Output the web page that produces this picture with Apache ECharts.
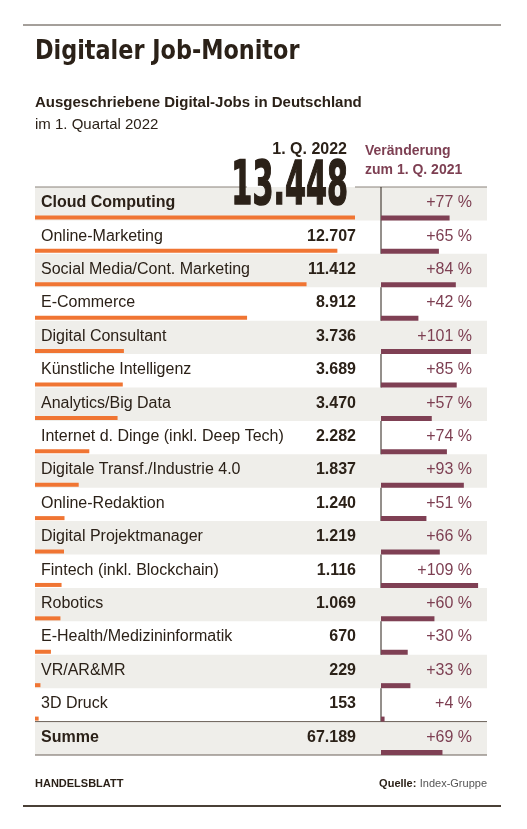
<!DOCTYPE html>
<html><head><meta charset="utf-8">
<script src="https://cdn.jsdelivr.net/npm/echarts@6/dist/echarts.min.js"></script>
<style>body{margin:0;background:#fff}#c{width:527px;height:829px}</style>
</head><body><div id="c"></div>
<script>
const categories = ['Cloud Computing','Online-Marketing','Social Media/Cont. Marketing','E-Commerce','Digital Consultant','Künstliche Intelligenz','Analytics/Big Data','Internet d. Dinge (inkl. Deep Tech)','Digitale Transf./Industrie 4.0','Online-Redaktion','Digital Projektmanager','Fintech (inkl. Blockchain)','Robotics','E-Health/Medizininformatik','VR/AR&MR','3D Druck','Summe'];
const jobs = [13448,12707,11412,8912,3736,3689,3470,2282,1837,1240,1219,1116,1069,670,229,153,67189];
const change = [77,65,84,42,101,85,57,74,93,51,66,109,60,30,33,4,69];

const DARK = '#2b2118', MAROON = '#7d3f52', ORANGE = '#f07533', GRAY = '#efeeea';
const fmt = v => v >= 1000 ? Math.floor(v/1000) + '.' + String(v%1000).padStart(3,'0') : String(v);
const last = categories.length - 1;
const rows = categories.map((c,i) => [i, c]);

const chart = echarts.init(document.getElementById('c'));
const yAx = gi => ({type:'category', gridIndex:gi, data:categories, inverse:true, show:false, boundaryGap:true});
chart.setOption({
  animation:false,
  grid:[{left:35, top:187, width:320, height:568}, {left:381, top:187, width:106, height:568}],
  xAxis:[{type:'value', gridIndex:0, min:0, max:13448, show:false},
         {type:'value', gridIndex:1, min:0, max:119, show:false}],
  yAxis:[yAx(0), yAx(1)],
  graphic:[
    {type:'line', shape:{x1:23,y1:25,x2:501,y2:25}, style:{stroke:'#4a4036',lineWidth:1}},
    {type:'text', left:35, top:38, style:{text:'Digitaler Job-Monitor', font:'bold 27px "DejaVu Sans Condensed"', fill:DARK}, scaleX:0.92},
    {type:'text', left:35, top:95, style:{text:'Ausgeschriebene Digital-Jobs in Deutschland', font:'bold 15px "Liberation Sans"', fill:DARK}},
    {type:'text', left:35, top:117, style:{text:'im 1. Quartal 2022', font:'15px "Liberation Sans"', fill:DARK}},
    {type:'text', x:347, y:142, style:{text:'1. Q. 2022', font:'bold 16px "Liberation Sans"', fill:DARK, align:'right'}},
    {type:'text', x:365, y:142, style:{text:'Veränderung\nzum 1. Q. 2021', font:'bold 14px "Liberation Sans"', fill:MAROON, lineHeight:19}},
    {type:'line', shape:{x1:23,y1:806,x2:501,y2:806}, style:{stroke:'#4a4036',lineWidth:2}},
    {type:'text', left:35, top:778, style:{text:'HANDELSBLATT', font:'bold 11px "Liberation Sans"', fill:DARK}},
    {type:'text', right:40, top:778, style:{rich:{b:{font:'bold 11px "Liberation Sans"',fill:DARK},n:{font:'11px "Liberation Sans"',fill:'#555'}}, text:'{b|Quelle:} {n|Index-Gruppe}'}}
  ],
  series:[
    {type:'custom', xAxisIndex:0, yAxisIndex:0, data:rows, z:1,
     renderItem:(p, api) => {
       const i = api.value(0);
       const c = api.coord([0, i]); const h = api.size([0,1])[1];
       const top = c[1] - h/2, ch = [];
       if (i % 2 === 0) ch.push({type:'rect', shape:{x:35, y:top, width:452, height:h}, style:{fill:GRAY}});
       const bold = i === 0 || i === last;
       ch.push({type:'text', style:{text:categories[i], x:41, y:c[1]-1, verticalAlign:'middle', font:(bold?'bold ':'')+'16px "Liberation Sans"', fill:DARK}});
       if (i > 0) ch.push({type:'text', style:{text:fmt(jobs[i]), x:356, y:c[1]-1, align:'right', verticalAlign:'middle', font:'bold 16px "Liberation Sans"', fill:DARK}});
       ch.push({type:'text', style:{text:'+' + change[i] + ' %', x:472, y:c[1]-1, align:'right', verticalAlign:'middle', font:'16px "Liberation Sans"', fill:MAROON}});
       if (i === last) {
         ch.push({type:'line', shape:{x1:35,y1:top,x2:487,y2:top}, style:{stroke:'#6b6158',lineWidth:1}});
         ch.push({type:'line', shape:{x1:35,y1:top+h,x2:487,y2:top+h}, style:{stroke:'#6b6158',lineWidth:1}});
       }
       if (i === 0) {
         ch.push({type:'line', shape:{x1:35,y1:top,x2:247,y2:top}, style:{stroke:'#8a827a',lineWidth:1}});
         ch.push({type:'line', shape:{x1:355,y1:top,x2:487,y2:top}, style:{stroke:'#8a827a',lineWidth:1}});
         ch.push({type:'line', shape:{x1:381,y1:top,x2:381,y2:top+h*categories.length}, style:{stroke:DARK,lineWidth:1}});
       }
       return {type:'group', children:ch};
     }},
    {type:'custom', xAxisIndex:0, yAxisIndex:0, z:3,
     data:jobs.slice(0,last).map((v,i)=>[v,i]),
     renderItem:(p, api) => {
       const s = api.coord([0, api.value(1)]), e = api.coord([api.value(0), api.value(1)]);
       const h = api.size([0,1])[1];
       return {type:'rect', shape:{x:s[0], y:s[1]+h/2-5, width:Math.max(e[0]-s[0],2), height:4}, style:{fill:ORANGE}};
     }},
    {type:'custom', xAxisIndex:1, yAxisIndex:1, z:3,
     data:change.map((v,i)=>[v,i]),
     renderItem:(p, api) => {
       const s = api.coord([0, api.value(1)]), e = api.coord([api.value(0), api.value(1)]);
       const h = api.size([0,1])[1];
       return {type:'rect', shape:{x:s[0], y:s[1]+h/2-5, width:e[0]-s[0], height:5}, style:{fill:'#7f4054'}};
     }},
    {type:'custom', xAxisIndex:0, yAxisIndex:0, z:5, data:[[0]],
     renderItem:(p, api) => {
       const c = api.coord([jobs[0], 0]);
       return {type:'text', x:c[0]-7, y:c[1]+15, scaleX:0.56, style:{text:fmt(jobs[0]), x:0, y:0, align:'right', verticalAlign:'bottom', font:'bold 60px "DejaVu Sans Condensed"', fill:DARK, stroke:DARK, lineWidth:1.5}};
     }}
  ]
});
</script></body></html>
